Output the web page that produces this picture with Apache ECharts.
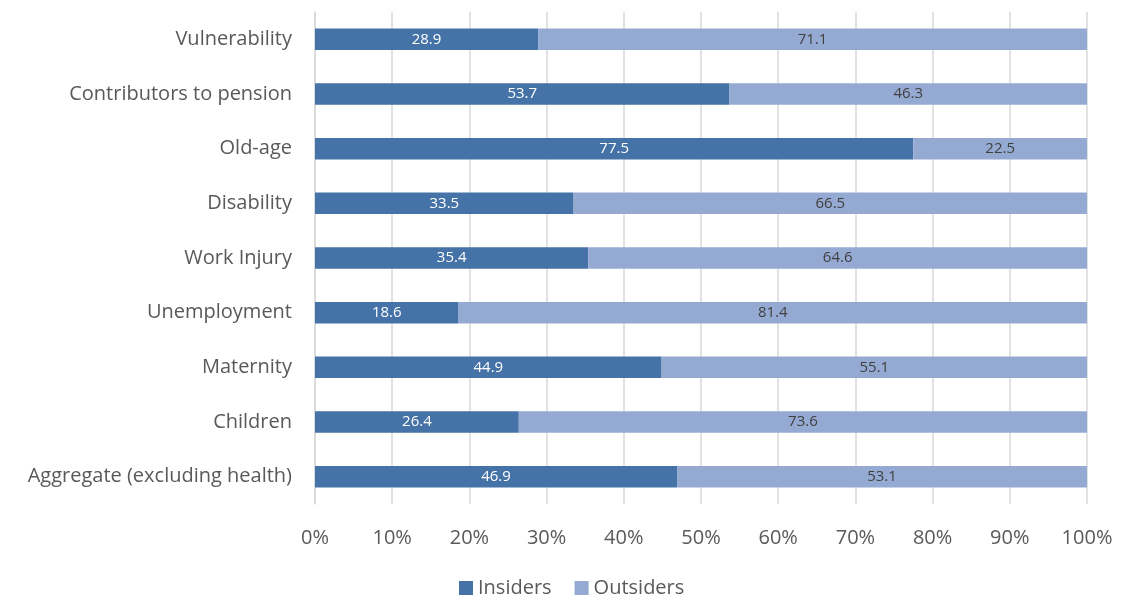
<!DOCTYPE html>
<html>
<head>
<meta charset="utf-8">
<script src="https://cdn.jsdelivr.net/npm/echarts@6/dist/echarts.min.js"></script>
<style>html,body{margin:0;padding:0;background:#fff;}#c{width:1121px;height:598px;}</style>
</head>
<body>
<div id="c"></div>
<script>
const categories = ["Aggregate (excluding health)", "Children", "Maternity", "Unemployment", "Work Injury", "Disability", "Old-age", "Contributors to pension", "Vulnerability"];
const insiders = [46.9, 26.4, 44.9, 18.6, 35.4, 33.5, 77.5, 53.7, 28.9];
const outsiders = [53.1, 73.6, 55.1, 81.4, 64.6, 66.5, 22.5, 46.3, 71.1];
const xTicks = [0, 10, 20, 30, 40, 50, 60, 70, 80, 90, 100];

const FONT = "Open Sans";
const chart = echarts.init(document.getElementById('c'), null, {renderer: 'canvas'});
chart.setOption({
  animation: false,
  textStyle: {fontFamily: FONT},
  grid: {left: 315, right: 34, top: 12, bottom: 94, containLabel: false},
  legend: {
    data: ['Insiders', 'Outsiders'],
    top: 578, left: 459, padding: 0,
    itemWidth: 14, itemHeight: 14, itemGap: 23, icon: 'rect',
    textStyle: {fontSize: 20, lineHeight: 20, color: '#595959', fontFamily: FONT}
  },
  xAxis: {
    type: 'value', min: 0, max: 100, interval: 10,
    axisLine: {show: false}, axisTick: {show: false},
    splitLine: {show: true, lineStyle: {color: '#d9d9d9', width: 1.5}},
    axisLabel: {fontSize: 20, color: '#595959', margin: 24, formatter: v => xTicks.includes(v) ? v + '%' : ''}
  },
  yAxis: {
    type: 'category', data: categories,
    axisLine: {show: true, lineStyle: {color: '#d9d9d9', width: 1.5}},
    axisTick: {show: false},
    axisLabel: {fontSize: 20, color: '#595959', margin: 23}
  },
  series: [
    {name: 'Insiders', type: 'bar', stack: 't', data: insiders, barWidth: 21.5,
     itemStyle: {color: '#4673a7'},
     label: {show: true, position: 'inside', color: '#ffffff', fontSize: 15, formatter: p => p.value.toFixed(1)}},
    {name: 'Outsiders', type: 'bar', stack: 't', data: outsiders, barWidth: 21.5,
     itemStyle: {color: '#95aad2'},
     label: {show: true, position: 'inside', color: '#404040', fontSize: 15, formatter: p => p.value.toFixed(1)}}
  ]
});
</script>
</body>
</html>
